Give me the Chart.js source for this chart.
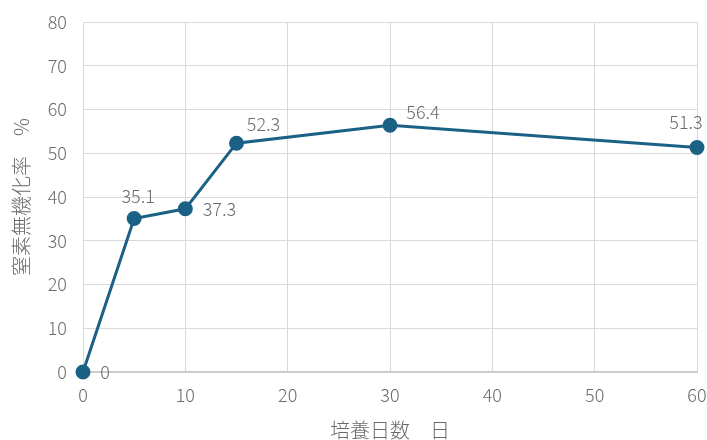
<!DOCTYPE html>
<html>
<head>
<meta charset="utf-8">
<script src="https://cdn.jsdelivr.net/npm/chart.js@4/dist/chart.umd.min.js"></script>
<style>
  html, body { margin: 0; padding: 0; background: #fff; }
  #wrap { width: 707px; height: 440px; }
</style>
</head>
<body>
<div id="wrap"><canvas id="nChart" width="707" height="440"></canvas></div>
<script>
// 培養日数 vs 窒素無機化率
const days = [0, 5, 10, 15, 30, 60];
const rates = [0, 35.1, 37.3, 52.3, 56.4, 51.3];
const xTicks = [0, 10, 20, 30, 40, 50, 60];
const yTicks = [0, 10, 20, 30, 40, 50, 60, 70, 80];

// where each value label sits relative to its point (px)
const labelOffsets = [[22, 0], [4, -22], [34, 0], [27, -19], [33, -13], [-11, -25]];

const font = "'Noto Sans CJK JP', 'Noto Sans', sans-serif";
const gray = "#6b6b6b";

const valueLabels = {
  id: "valueLabels",
  afterDatasetsDraw(chart) {
    const ctx = chart.ctx;
    const meta = chart.getDatasetMeta(0);
    ctx.save();
    ctx.font = "300 18px " + font;
    ctx.fillStyle = gray;
    ctx.textAlign = "center";
    ctx.textBaseline = "middle";
    meta.data.forEach((pt, i) => {
      const [dx, dy] = labelOffsets[i];
      ctx.fillText(String(rates[i]), pt.x + dx, pt.y + dy);
    });
    ctx.restore();
  },
};

new Chart(document.getElementById("nChart"), {
  type: "line",
  data: {
    datasets: [
      {
        label: "窒素無機化率",
        data: days.map((d, i) => ({ x: d, y: rates[i] })),
        borderColor: "#1b6085",
        backgroundColor: "#1b6085",
        borderWidth: 3,
        pointRadius: 6,
        pointHoverRadius: 6,
        tension: 0,
        fill: false,
        clip: false,
      },
    ],
  },
  options: {
    responsive: false,
    animation: false,
    layout: { padding: { top: 22, right: 10, left: 0, bottom: 0 } },
    plugins: { legend: { display: false }, tooltip: { enabled: false } },
    scales: {
      x: {
        type: "linear",
        min: 0,
        max: 60,
        afterBuildTicks(scale) {
          scale.ticks = xTicks.map((v) => ({ value: v }));
        },
        afterFit(scale) {
          scale.height = 68;
          scale.paddingLeft = 0;
          scale.paddingRight = 0;
        },
        grid: { color: "#d9d9d9", lineWidth: 1, drawTicks: false },
        border: { color: "#c8c8c8", width: 1.5 },
        ticks: { color: gray, font: { family: font, size: 18, weight: 300 }, padding: 12 },
        title: {
          display: true,
          text: "培養日数　日",
          color: gray,
          font: { family: font, size: 20, weight: 300, lineHeight: 1.0 },
          padding: { top: 0, bottom: 0 },
        },
      },
      y: {
        min: 0,
        max: 80,
        afterBuildTicks(scale) {
          scale.ticks = yTicks.map((v) => ({ value: v }));
        },
        afterFit(scale) {
          scale.width = 83;
          scale.paddingTop = 0;
          scale.paddingBottom = 0;
        },
        grid: { color: "#d9d9d9", lineWidth: 1, drawTicks: false },
        border: { color: "#d9d9d9", width: 1 },
        ticks: { color: gray, font: { family: font, size: 18, weight: 300 }, padding: 16 },
        title: {
          display: true,
          text: "窒素無機化率　%",
          color: gray,
          font: { family: font, size: 20, weight: 300, lineHeight: 1.2 },
          padding: { top: 9, bottom: 0 },
        },
      },
    },
  },
  plugins: [valueLabels],
});
</script>
</body>
</html>
